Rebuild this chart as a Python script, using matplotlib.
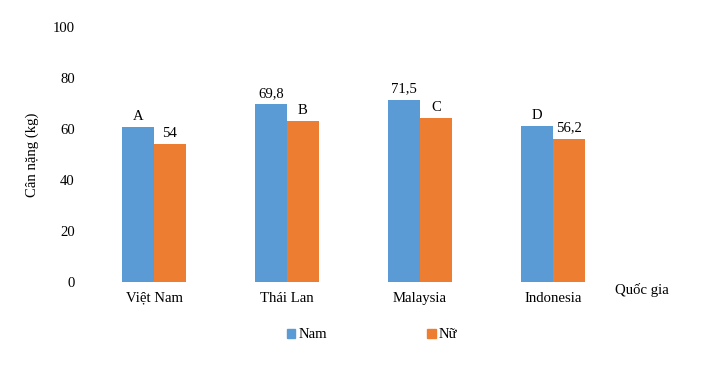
import matplotlib
matplotlib.use("Agg")
import matplotlib.pyplot as plt
from matplotlib.patches import Patch
import numpy as np

plt.rcParams['font.family'] = ['Liberation Serif', 'DejaVu Serif']

categories = ["Việt Nam", "Thái Lan", "Malaysia", "Indonesia"]
nam = [60.7, 69.8, 71.5, 61.0]
nu = [54.0, 63.0, 64.2, 56.2]
nam_labels = ["A", "69,8", "71,5", "D"]
nu_labels = ["54", "B", "C", "56,2"]
yticks = [0, 20, 40, 60, 80, 100]

c_nam = "#5B9BD5"
c_nu = "#ED7D31"
fs = 10.6

fig = plt.figure(figsize=(7.10, 3.71), dpi=100)
ax = fig.add_axes([87.5/710, 89/371, 532/710, 255/371])

x = np.arange(len(categories))
w = 0.24
b1 = ax.bar(x - w/2, nam, width=w, color=c_nam)
b2 = ax.bar(x + w/2, nu, width=w, color=c_nu)
ax.bar_label(b1, labels=nam_labels, padding=3, fontsize=fs)
ax.bar_label(b2, labels=nu_labels, padding=3, fontsize=fs)

ax.set_xlim(-0.5, len(categories) - 0.5)
ax.set_ylim(0, 100)
ax.set_yticks(yticks)
ax.set_yticklabels([str(v) for v in yticks])
ax.set_xticks(x)
ax.set_xticklabels(categories)
ax.tick_params(axis='both', length=0, labelsize=fs)
ax.tick_params(axis='y', pad=9)
ax.tick_params(axis='x', pad=7)
for s in ax.spines.values():
    s.set_visible(False)

ax.set_ylabel("Cân nặng (kg)", fontsize=fs, labelpad=10)

fig.text(615/710, 1 - 290/371, "Quốc gia", fontsize=fs, ha='left', va='center')

handles = [Patch(color=c_nam, label="Nam"), Patch(color=c_nu, label="Nữ")]
fig.legend(handles=handles, loc='center', bbox_to_anchor=(372/710, 1 - 335/371),
           ncol=2, frameon=False, fontsize=fs, handlelength=0.6, handleheight=0.6,
           handletextpad=0.2, columnspacing=6.8)

fig.savefig("out.png", dpi=100)
